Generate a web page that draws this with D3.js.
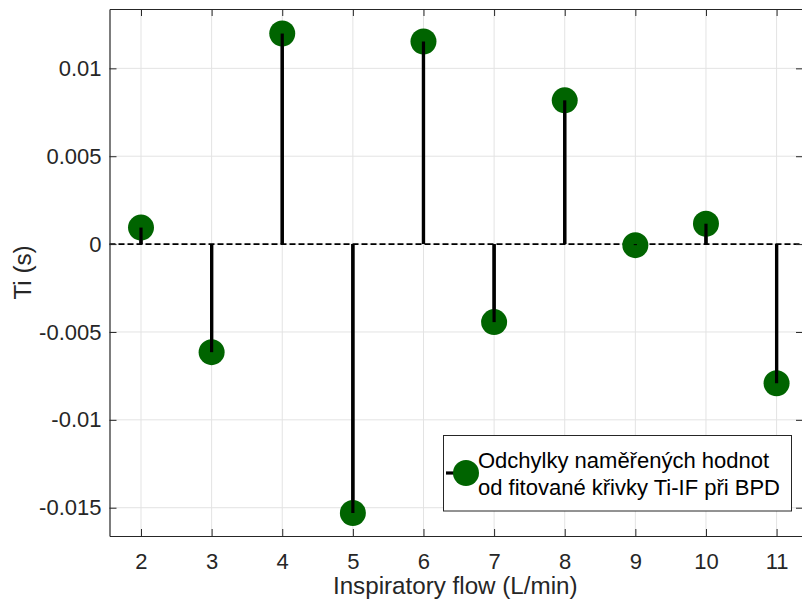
<!DOCTYPE html>
<html><head><meta charset="utf-8">
<script src="https://cdn.jsdelivr.net/npm/d3@7"></script>
<style>body{margin:0;background:#fff;} svg{display:block;font-family:"Liberation Sans",Arial,sans-serif;}</style>
</head><body>
<script>
const flows = [2, 3, 4, 5, 6, 7, 8, 9, 10, 11];
const deviations = [0.00094, -0.00615, 0.01198, -0.0153, 0.01153, -0.00444, 0.00818, -0.00006, 0.00116, -0.00792];
const xTicks = [2, 3, 4, 5, 6, 7, 8, 9, 10, 11];
const yTicks = [-0.015, -0.01, -0.005, 0, 0.005, 0.01];
const yTickLabels = ["-0.015", "-0.01", "-0.005", "0", "0.005", "0.01"];
const legendLines = ["Odchylky naměřených hodnot", "od fitované křivky Ti-IF při BPD"];

const W = 802, H = 604;
const L = 109.5, R = 803, T = 9, B = 536;
const axisColor = "#262626", gridColor = "#e3e3e3", green = "#006400";

const svg = d3.select("body").append("svg").attr("width", W).attr("height", H);
const x = d3.scaleLinear().domain([1.554, 11.374]).range([L, R]);
const y = d3.scaleLinear().domain([-0.01661, 0.013377]).range([B, T]);

// grid
const g = svg.append("g");
g.selectAll(".gx").data(xTicks).enter().append("line")
  .attr("x1", d => x(d)).attr("x2", d => x(d)).attr("y1", T).attr("y2", B)
  .attr("stroke", gridColor).attr("stroke-width", 1);
g.selectAll(".gy").data(yTicks).enter().append("line")
  .attr("y1", d => y(d)).attr("y2", d => y(d)).attr("x1", L).attr("x2", R)
  .attr("stroke", gridColor).attr("stroke-width", 1);

// baseline
svg.append("line").attr("x1", L).attr("x2", R).attr("y1", y(0)).attr("y2", y(0))
  .attr("stroke", "#000").attr("stroke-width", 1.6).attr("stroke-dasharray", "6,3");

// stems
svg.selectAll(".stem").data(flows).enter().append("line")
  .attr("x1", d => x(d)).attr("x2", d => x(d))
  .attr("y1", y(0)).attr("y2", (d, i) => y(deviations[i]))
  .attr("stroke", "#000").attr("stroke-width", 3.2);
svg.selectAll(".mk").data(flows).enter().append("circle")
  .attr("cx", d => x(d)).attr("cy", (d, i) => y(deviations[i]))
  .attr("r", 13).attr("fill", green);
// redraw stems above markers (MATLAB draws line over markers)
svg.selectAll(".stem2").data(flows).enter().append("line")
  .attr("x1", d => x(d)).attr("x2", d => x(d))
  .attr("y1", y(0)).attr("y2", (d, i) => y(deviations[i]))
  .attr("stroke", "#000").attr("stroke-width", 3.2);

// axes
const xAxisB = d3.axisBottom(x).tickValues(xTicks).tickSizeInner(-7).tickSizeOuter(0).tickPadding(17);
const xAxisT = d3.axisTop(x).tickValues(xTicks).tickSizeInner(-7).tickSizeOuter(0).tickFormat("");
const yAxisL = d3.axisLeft(y).tickValues(yTicks).tickSizeInner(-7).tickSizeOuter(0).tickPadding(8)
  .tickFormat((d, i) => yTickLabels[i]);
const yAxisR = d3.axisRight(y).tickValues(yTicks).tickSizeInner(-7).tickSizeOuter(0).tickFormat("");

function style(sel) {
  sel.select(".domain").attr("stroke", axisColor).attr("stroke-width", 1.2);
  sel.selectAll(".tick line").attr("stroke", axisColor).attr("stroke-width", 1);
  sel.selectAll(".tick text").attr("fill", axisColor).attr("font-size", 22)
    .attr("font-family", "Liberation Sans, Arial, sans-serif");
}
svg.append("g").attr("transform", `translate(0,${B})`).call(xAxisB).call(style);
svg.append("g").attr("transform", `translate(0,${T})`).call(xAxisT).call(style);
svg.append("g").attr("transform", `translate(${L},0)`).call(yAxisL).call(style);
svg.append("g").attr("transform", `translate(${R},0)`).call(yAxisR).call(style);

// labels
svg.append("text").attr("x", (L + R) / 2 - 1).attr("y", 594).attr("text-anchor", "middle")
  .attr("font-size", 24.2).attr("fill", axisColor).text("Inspiratory flow (L/min)");
svg.append("text").attr("transform", `translate(31,${(T + B) / 2}) rotate(-90)`)
  .attr("text-anchor", "middle").attr("font-size", 24.2).attr("fill", axisColor).text("Ti (s)");

// legend
const lg = svg.append("g");
lg.append("rect").attr("x", 443.5).attr("y", 435.5).attr("width", 348).attr("height", 75.5)
  .attr("fill", "#fff").attr("stroke", axisColor).attr("stroke-width", 1);
lg.append("line").attr("x1", 446).attr("x2", 466).attr("y1", 473).attr("y2", 473)
  .attr("stroke", "#000").attr("stroke-width", 3.2);
lg.append("circle").attr("cx", 466).attr("cy", 473).attr("r", 13).attr("fill", green);
lg.selectAll("text").data(legendLines).enter().append("text")
  .attr("x", 478).attr("y", (d, i) => 467.5 + i * 27.5)
  .attr("font-size", 22).attr("fill", "#000").text(d => d);
</script>
</body></html>
